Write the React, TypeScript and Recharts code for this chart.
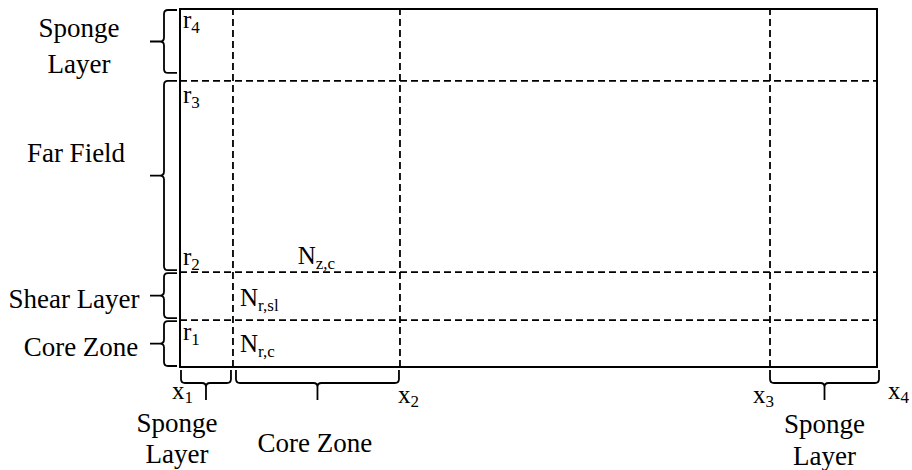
import React from "react";
import {
  ComposedChart,
  XAxis,
  YAxis,
  ReferenceLine,
  ReferenceArea,
  ReferenceDot,
} from "recharts";

// Grid positions (axial x, radial r) in normalised domain units
const xGrid = [0, 7.6, 31.56, 84.65, 100]; // x1, sponge/core edge, x2, x3, x4
const rGrid = [0, 13.1, 26.5, 79.9, 100]; // axis, r1, r2, r3, r4

// Text labels
const rLabels = [
  ["r", "1"],
  ["r", "2"],
  ["r", "3"],
  ["r", "4"],
];
const xLabels = [
  ["x", "1"],
  ["x", "2"],
  ["x", "3"],
  ["x", "4"],
];
const xLabelIdx = [0, 2, 3, 4];
const radialZones = ["Core Zone", "Shear Layer", "Far Field", "Sponge Layer"];
const axialZones = ["Sponge Layer", "Core Zone", "Sponge Layer"];
const axialZoneIdx = [
  [0, 1],
  [1, 2],
  [3, 4],
];
const nLabels = [
  ["N", "z,c"],
  ["N", "r,sl"],
  ["N", "r,c"],
];

const FONT = '"Liberation Serif", "Times New Roman", serif';
const INK = "#000";

const Sub = ({ x, y, main, sub, anchor = "start", subDy = 5 }: any) => (
  <text x={x} y={y} fontFamily={FONT} fontSize={25} fill={INK} textAnchor={anchor}>
    {main}
    <tspan fontSize={17} dy={subDy}>
      {sub}
    </tspan>
  </text>
);

const ZoneText = ({ cx, lines, baselines }: any) => {
  const words = String(lines).split(" ");
  if (baselines.length === 2 && words.length === 2) {
    return (
      <g>
        {words.map((w: string, i: number) => (
          <text
            key={i}
            x={cx}
            y={baselines[i]}
            fontFamily={FONT}
            fontSize={27}
            fill={INK}
            textAnchor="middle"
          >
            {w}
          </text>
        ))}
      </g>
    );
  }
  return (
    <text x={cx} y={baselines[0]} fontFamily={FONT} fontSize={27} fill={INK} textAnchor="middle">
      {lines}
    </text>
  );
};

// left brace settings per radial zone: [topInset, bottomInset, labelDx, baselines rel. to mid]
const leftCfg: any[] = [
  [1, -1, -99, [12]],
  [1, -2, -106, [12]],
  [0, -2, -104, [-14]],
  [1, -8, -101, [-4.5, 31.5]],
];
// bottom brace settings: [leftInset, rightInset, labelDx, baselines rel. to bottom edge]
const bottomCfg: any[] = [
  [1, -2, -29, [65, 96]],
  [3, -1, -2.5, [85]],
  [0, 2, 0, [66, 98]],
];

const leftBrace = (i: number) => (p: any) => {
  const [ti, bi, ldx, bls] = leftCfg[i];
  const right = p.x + p.width;
  const top = p.y + ti;
  const bottom = p.y + p.height + bi;
  const mid = (top + bottom) / 2;
  const hx = right - 3;
  const sx = right - 16;
  const tx = right - 30;
  const r = 4;
  const d = `M ${hx} ${top} L ${sx + r} ${top} Q ${sx} ${top} ${sx} ${top + r} L ${sx} ${mid - r} Q ${sx} ${mid} ${sx - r} ${mid} L ${tx} ${mid} M ${sx - r} ${mid} Q ${sx} ${mid} ${sx} ${mid + r} L ${sx} ${bottom - r} Q ${sx} ${bottom} ${sx + r} ${bottom} L ${hx} ${bottom}`;
  return (
    <g>
      <path d={d} fill="none" stroke={INK} strokeWidth={1.8} />
      <ZoneText cx={right + ldx} lines={radialZones[i]} baselines={bls.map((b: number) => mid + b)} />
    </g>
  );
};

const bottomBrace = (i: number) => (p: any) => {
  const [li, ri, ldx, bls] = bottomCfg[i];
  const ref = p.y;
  const L = p.x + li;
  const R = p.x + p.width + ri;
  const m = (L + R) / 2;
  const t = ref + 3;
  const s = ref + 16;
  const dd = ref + 33;
  const r = 4;
  const d = `M ${L} ${t} L ${L} ${s - r} Q ${L} ${s} ${L + r} ${s} L ${m - r} ${s} Q ${m} ${s} ${m} ${s + r} L ${m} ${dd} M ${m} ${s + r} Q ${m} ${s} ${m + r} ${s} L ${R - r} ${s} Q ${R} ${s} ${R} ${s - r} L ${R} ${t}`;
  return (
    <g>
      <path d={d} fill="none" stroke={INK} strokeWidth={1.8} />
      <ZoneText cx={m + ldx} lines={axialZones[i]} baselines={bls.map((b: number) => ref + b)} />
    </g>
  );
};

const rLabelDy = [20, -7, 22, 19];
const xLabelDx = [-8, -2, -17, 11];
const xLabelDy = [32, 36, 36, 32];

export default function App() {
  return (
    <div style={{ position: "absolute", left: 0, top: 0 }}>
      <ComposedChart
        width={912}
        height={470}
        data={[]}
        margin={{ left: 180, right: 35, top: 9, bottom: 103 }}
      >
        <XAxis type="number" dataKey="x" domain={[0, 100]} hide allowDataOverflow />
        <YAxis type="number" dataKey="y" domain={[0, 100]} hide allowDataOverflow />

        {/* outer domain */}
        <ReferenceArea
          x1={xGrid[0]}
          x2={xGrid[4]}
          y1={rGrid[0]}
          y2={rGrid[4]}
          fill="none"
          fillOpacity={0}
          stroke={INK}
          strokeWidth={2}
          ifOverflow="visible"
        />

        {/* dashed grid */}
        {[xGrid[1], xGrid[2], xGrid[3]].map((v, i) => (
          <ReferenceLine
            key={`vx${i}`}
            x={v}
            stroke={INK}
            strokeWidth={1.8}
            strokeDasharray="7 4"
            ifOverflow="visible"
          />
        ))}
        {[rGrid[1], rGrid[2], rGrid[3]].map((v, i) => (
          <ReferenceLine
            key={`hr${i}`}
            y={v}
            stroke={INK}
            strokeWidth={1.8}
            strokeDasharray="7 4"
            ifOverflow="visible"
          />
        ))}

        {/* left braces */}
        {radialZones.map((z, i) => (
          <ReferenceArea
            key={`lb${i}`}
            x1={xGrid[0] - 5}
            x2={xGrid[0]}
            y1={rGrid[i]}
            y2={rGrid[i + 1]}
            ifOverflow="visible"
            shape={leftBrace(i)}
          />
        ))}

        {/* bottom braces */}
        {axialZones.map((z, i) => (
          <ReferenceArea
            key={`bb${i}`}
            x1={xGrid[axialZoneIdx[i][0]]}
            x2={xGrid[axialZoneIdx[i][1]]}
            y1={rGrid[0] - 5}
            y2={rGrid[0]}
            ifOverflow="visible"
            shape={bottomBrace(i)}
          />
        ))}

        {/* r labels */}
        {rLabels.map((l, i) => (
          <ReferenceDot
            key={`rl${i}`}
            x={xGrid[0]}
            y={rGrid[i + 1]}
            r={0}
            ifOverflow="visible"
            shape={(p: any) => <Sub x={p.cx + 3} y={p.cy + rLabelDy[i]} main={l[0]} sub={l[1]} />}
          />
        ))}

        {/* x labels */}
        {xLabels.map((l, i) => (
          <ReferenceDot
            key={`xl${i}`}
            x={xGrid[xLabelIdx[i]]}
            y={rGrid[0]}
            r={0}
            ifOverflow="visible"
            shape={(p: any) => (
              <Sub
                x={p.cx + xLabelDx[i]}
                y={p.cy + xLabelDy[i]}
                main={l[0]}
                sub={l[1]}
                subDy={4}
              />
            )}
          />
        ))}

        {/* N labels */}
        <ReferenceDot
          x={(xGrid[1] + xGrid[2]) / 2}
          y={rGrid[2]}
          r={0}
          ifOverflow="visible"
          shape={(p: any) => (
            <Sub x={p.cx} y={p.cy - 8} main={nLabels[0][0]} sub={nLabels[0][1]} anchor="middle" />
          )}
        />
        <ReferenceDot
          x={xGrid[1]}
          y={(rGrid[1] + rGrid[2]) / 2}
          r={0}
          ifOverflow="visible"
          shape={(p: any) => (
            <Sub x={p.cx + 7} y={p.cy + 10} main={nLabels[1][0]} sub={nLabels[1][1]} />
          )}
        />
        <ReferenceDot
          x={xGrid[1]}
          y={(rGrid[0] + rGrid[1]) / 2}
          r={0}
          ifOverflow="visible"
          shape={(p: any) => (
            <Sub x={p.cx + 7} y={p.cy + 8} main={nLabels[2][0]} sub={nLabels[2][1]} />
          )}
        />
      </ComposedChart>
    </div>
  );
}
